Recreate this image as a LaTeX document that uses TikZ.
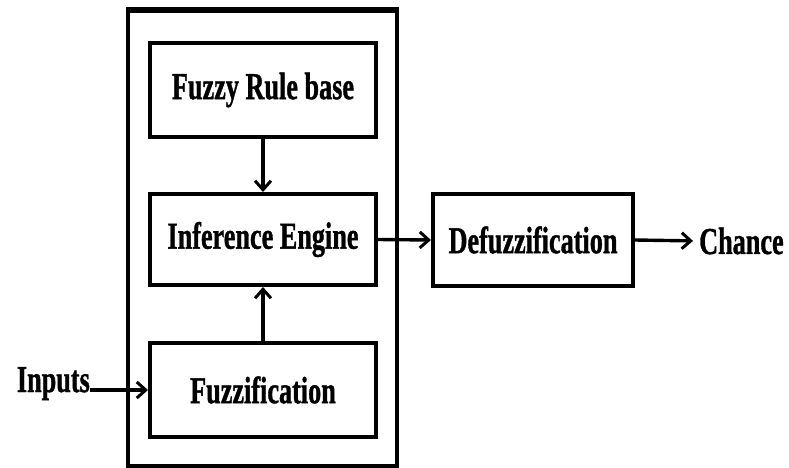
\documentclass[tikz,border=0pt]{standalone}
\usepackage{fontspec}
\usepackage{graphicx}
\setmainfont{Liberation Serif}[BoldFeatures={FakeBold=1.2}]
\usetikzlibrary{arrows.meta}

% condensed bold label text
\newcommand{\boxlabel}[1]{\scalebox{0.69}[1]{\fontsize{38}{40}\selectfont\bfseries #1}}

\tikzset{
  block/.style={draw, line width=4pt, minimum width=226pt, inner sep=0pt},
  flow/.style={line width=3.4pt, -{Straight Barb[length=9pt,width=16pt,line width=3pt]}},
  lbl/.style={inner sep=0pt}
}

\begin{document}
\begin{tikzpicture}[x=1pt, y=-1pt]
  \useasboundingbox (0,0) rectangle (789,468);

  % enclosing frame of the fuzzy system
  \draw[line width=3.6pt] (128,10) rectangle (397,466);
  \draw[line width=6pt] (126.2,10) -- (398.8,10);

  % processing blocks
  \node[block, minimum height=94pt] (rules) at (263,90) {\boxlabel{Fuzzy Rule base}};
  \node[block, minimum height=91pt] (engine) at (263,239.5) {\boxlabel{Inference Engine}};
  \node[block, minimum height=94pt] (fuzz) at (263,390) {\boxlabel{Fuzzification}};
  \node[block, minimum width=200pt, minimum height=92pt] (defuzz) at (533,240) {\boxlabel{Defuzzification}};

  % external labels
  \node[lbl, anchor=base east] (inputs) at (90,392) {\boxlabel{Inputs}};
  \node[lbl, anchor=west] (chance) at (699,241) {\boxlabel{Chance}};
  \coordinate (inend) at (90,390);

  % connections
  \draw[flow] (rules.south) -- (engine.north);
  \draw[flow] (fuzz.north) -- (engine.south);
  \draw[flow] (engine.east) -- (defuzz.west);
  \draw[flow, shorten >=6pt] (defuzz.east) -- (chance.west);
  \draw[flow] (inend) -- (fuzz.west);
\end{tikzpicture}
\end{document}
